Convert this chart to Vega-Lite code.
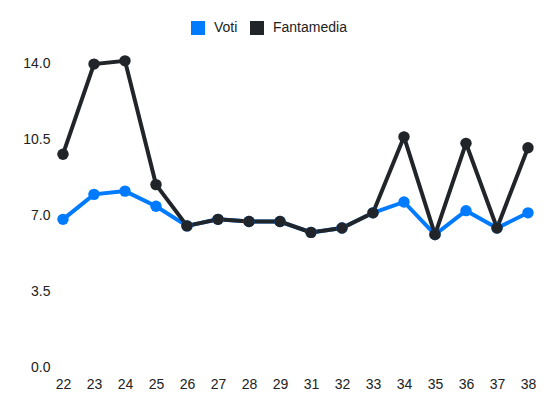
{
  "$schema": "https://vega.github.io/schema/vega-lite/v6.json",
  "width": 465,
  "height": 304,
  "autosize": "none",
  "padding": {"left": 63, "top": 63, "right": 22, "bottom": 45},
  "background": "white",
  "config": {
    "view": {"stroke": null},
    "font": "Liberation Sans",
    "axis": {"labelFont": "Liberation Sans", "labelColor": "#222", "labelFontSize": 14}
  },
  "data": {
    "values": [
      {"giornata": "22", "serie": "Voti", "valore": 6.8},
      {"giornata": "23", "serie": "Voti", "valore": 7.95},
      {"giornata": "24", "serie": "Voti", "valore": 8.1},
      {"giornata": "25", "serie": "Voti", "valore": 7.4},
      {"giornata": "26", "serie": "Voti", "valore": 6.5},
      {"giornata": "27", "serie": "Voti", "valore": 6.8},
      {"giornata": "28", "serie": "Voti", "valore": 6.7},
      {"giornata": "29", "serie": "Voti", "valore": 6.7},
      {"giornata": "31", "serie": "Voti", "valore": 6.2},
      {"giornata": "32", "serie": "Voti", "valore": 6.4},
      {"giornata": "33", "serie": "Voti", "valore": 7.1},
      {"giornata": "34", "serie": "Voti", "valore": 7.6},
      {"giornata": "35", "serie": "Voti", "valore": 6.1},
      {"giornata": "36", "serie": "Voti", "valore": 7.2},
      {"giornata": "37", "serie": "Voti", "valore": 6.4},
      {"giornata": "38", "serie": "Voti", "valore": 7.1},
      {"giornata": "22", "serie": "Fantamedia", "valore": 9.8},
      {"giornata": "23", "serie": "Fantamedia", "valore": 13.95},
      {"giornata": "24", "serie": "Fantamedia", "valore": 14.1},
      {"giornata": "25", "serie": "Fantamedia", "valore": 8.4},
      {"giornata": "26", "serie": "Fantamedia", "valore": 6.5},
      {"giornata": "27", "serie": "Fantamedia", "valore": 6.8},
      {"giornata": "28", "serie": "Fantamedia", "valore": 6.7},
      {"giornata": "29", "serie": "Fantamedia", "valore": 6.7},
      {"giornata": "31", "serie": "Fantamedia", "valore": 6.2},
      {"giornata": "32", "serie": "Fantamedia", "valore": 6.4},
      {"giornata": "33", "serie": "Fantamedia", "valore": 7.1},
      {"giornata": "34", "serie": "Fantamedia", "valore": 10.6},
      {"giornata": "35", "serie": "Fantamedia", "valore": 6.1},
      {"giornata": "36", "serie": "Fantamedia", "valore": 10.3},
      {"giornata": "37", "serie": "Fantamedia", "valore": 6.4},
      {"giornata": "38", "serie": "Fantamedia", "valore": 10.1}
    ]
  },
  "encoding": {
    "x": {
      "field": "giornata",
      "type": "ordinal",
      "sort": null,
      "scale": {"type": "point", "padding": 0},
      "axis": {"title": null, "domain": false, "ticks": false, "grid": false, "labelAngle": 0, "labelPadding": 10}
    },
    "y": {
      "field": "valore",
      "type": "quantitative",
      "scale": {"domain": [0, 14], "nice": false, "zero": true},
      "axis": {"title": null, "domain": false, "ticks": false, "grid": false, "values": [0, 3.5, 7, 10.5, 14], "format": ".1f", "labelPadding": 13}
    },
    "color": {
      "field": "serie",
      "type": "nominal",
      "scale": {"domain": ["Voti", "Fantamedia"], "range": ["#007bff", "#212529"]},
      "legend": {
        "title": null,
        "orient": "none",
        "direction": "horizontal",
        "legendX": 128,
        "legendY": -42,
        "padding": 0,
        "symbolType": "square",
        "symbolSize": 196,
        "symbolStrokeWidth": 0,
        "symbolOpacity": 1,
        "labelFontSize": 14,
        "labelColor": "#222",
        "labelOffset": 9,
        "columnPadding": 12
      }
    }
  },
  "layer": [
    {"mark": {"type": "line", "strokeWidth": 4}},
    {"mark": {"type": "point", "filled": true, "opacity": 1, "size": 130}}
  ]
}
